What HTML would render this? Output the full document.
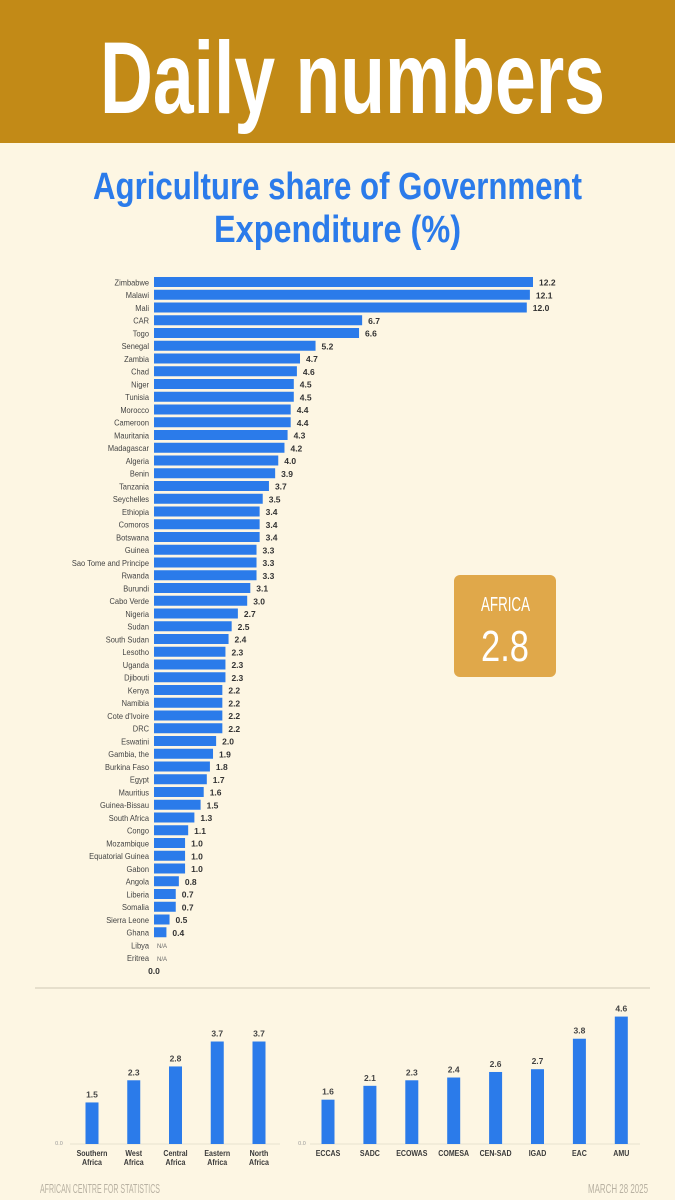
<!DOCTYPE html>
<html><head><meta charset="utf-8">
<style>
html,body{margin:0;padding:0;}
body{width:675px;height:1200px;background:#FDF6E3;overflow:hidden;position:relative;font-family:"Liberation Sans",sans-serif;}
svg{position:absolute;left:0;top:0;}
</style></head><body>
<svg id="chart" width="675" height="1200">
<rect x="0" y="0" width="675" height="143" fill="#C28A17"/>
<text x="100" y="113" font-size="102" font-weight="bold" fill="#fff" textLength="505" lengthAdjust="spacingAndGlyphs">Daily numbers</text>
<text x="93" y="199" font-size="38" font-weight="bold" fill="#2B7BEA" textLength="489" lengthAdjust="spacingAndGlyphs">Agriculture share of Government</text>
<text x="214" y="242" font-size="38" font-weight="bold" fill="#2B7BEA" textLength="247" lengthAdjust="spacingAndGlyphs">Expenditure (%)</text>
<rect x="454" y="575" width="102" height="102" rx="6" fill="#E0A84A"/>
<text x="481" y="611" fill="#fff" font-size="20" textLength="49" lengthAdjust="spacingAndGlyphs">AFRICA</text>
<text x="481" y="661" fill="#fff" font-size="44" textLength="48" lengthAdjust="spacingAndGlyphs">2.8</text>
<line x1="35" y1="988" x2="650" y2="988" stroke="#E6DFCC" stroke-width="2"/>
<text x="40" y="1193" fill="#B8B1A2" font-size="13" textLength="120" lengthAdjust="spacingAndGlyphs">AFRICAN CENTRE FOR STATISTICS</text>
<text x="588" y="1193" fill="#B8B1A2" font-size="13" textLength="60" lengthAdjust="spacingAndGlyphs">MARCH 28 2025</text>
</svg>
<script>
const countries=["Zimbabwe","Malawi","Mali","CAR","Togo","Senegal","Zambia","Chad","Niger","Tunisia","Morocco","Cameroon","Mauritania","Madagascar","Algeria","Benin","Tanzania","Seychelles","Ethiopia","Comoros","Botswana","Guinea","Sao Tome and Principe","Rwanda","Burundi","Cabo Verde","Nigeria","Sudan","South Sudan","Lesotho","Uganda","Djibouti","Kenya","Namibia","Cote d'Ivoire","DRC","Eswatini","Gambia, the","Burkina Faso","Egypt","Mauritius","Guinea-Bissau","South Africa","Congo","Mozambique","Equatorial Guinea","Gabon","Angola","Liberia","Somalia","Sierra Leone","Ghana","Libya","Eritrea"];
const shares=[12.2,12.1,12.0,6.7,6.6,5.2,4.7,4.6,4.5,4.5,4.4,4.4,4.3,4.2,4.0,3.9,3.7,3.5,3.4,3.4,3.4,3.3,3.3,3.3,3.1,3.0,2.7,2.5,2.4,2.3,2.3,2.3,2.2,2.2,2.2,2.2,2.0,1.9,1.8,1.7,1.6,1.5,1.3,1.1,1.0,1.0,1.0,0.8,0.7,0.7,0.5,0.4,null,null];
const regions=["Southern|Africa","West|Africa","Central|Africa","Eastern|Africa","North|Africa"];
const regionValues=[1.5,2.3,2.8,3.7,3.7];
const recs=["ECCAS","SADC","ECOWAS","COMESA","CEN-SAD","IGAD","EAC","AMU"];
const recValues=[1.6,2.1,2.3,2.4,2.6,2.7,3.8,4.6];

const svg=document.getElementById('chart');
const NS='http://www.w3.org/2000/svg';
const BLUE='#2B7BEA';
function mk(tag,attrs,txt){const e=document.createElementNS(NS,tag);for(const k in attrs)e.setAttribute(k,attrs[k]);if(txt!==undefined)e.textContent=txt;svg.appendChild(e);return e;}
const x0=154, pxPerUnit=379/12.2;
const xs=v=>x0+v*pxPerUnit;
const yRow=i=>282+i*12.75;
countries.forEach((c,i)=>{
  const y=yRow(i);
  const t=mk('text',{x:149,y:y+3.5,'text-anchor':'end','font-size':'8.5',fill:'#444',transform:'translate(149,0) scale(0.88,1) translate(-149,0)'},c);
  
  
  const v=shares[i];
  if(v===null){
    const n=mk('text',{x:157,y:y+3,'font-size':'6',fill:'#666'},'N/A');
    
    
    return;
  }
  const r=mk('rect',{x:x0,y:y-5,width:xs(v)-x0,height:10,fill:BLUE});
  
  
  const l=mk('text',{x:xs(v)+6,y:y+3.5,'font-size':'8.5','font-weight':'bold',fill:'#333'},v.toFixed(1));
  
  
});
const z=mk('text',{x:154,y:974,'text-anchor':'middle','font-size':'8.5','font-weight':'bold',fill:'#333'},'0.0');



const base=1144, pxCol=27.7;
const yc=v=>base-v*pxCol;
function colChart(cats,vals,cx,zeroX,x1,x2,prefix){
  const ax=mk('line',{x1:x1,y1:base,x2:x2,y2:base,stroke:'#E8E1CF','stroke-width':1});
  
  
  const zl=mk('text',{x:zeroX,y:base+1,'text-anchor':'middle','font-size':'5.5',fill:'#999'},'0.0');
  
  
  cats.forEach((c,i)=>{
    const x=cx(i), v=vals[i];
    const r=mk('rect',{x:x-6.5,y:yc(v),width:13,height:base-yc(v),fill:BLUE});
    
    
    const l=mk('text',{x:x,y:yc(v)-5,'text-anchor':'middle','font-size':'8.5','font-weight':'bold',fill:'#444'},v.toFixed(1));
    
    
    c.split('|').forEach((p,j)=>{
      const t=mk('text',{x:x,y:base+12+j*9,'text-anchor':'middle','font-size':'8','font-weight':'bold',fill:'#3a3a3a',transform:'translate('+x+',0) scale(0.88,1) translate('+(-x)+',0)'},p);
      
      
    });
  });
}
colChart(regions,regionValues,i=>92+i*41.75,59,70,280,'region');
colChart(recs,recValues,i=>328+i*41.9,302,310,640,'rec');
</script>
</body></html>
